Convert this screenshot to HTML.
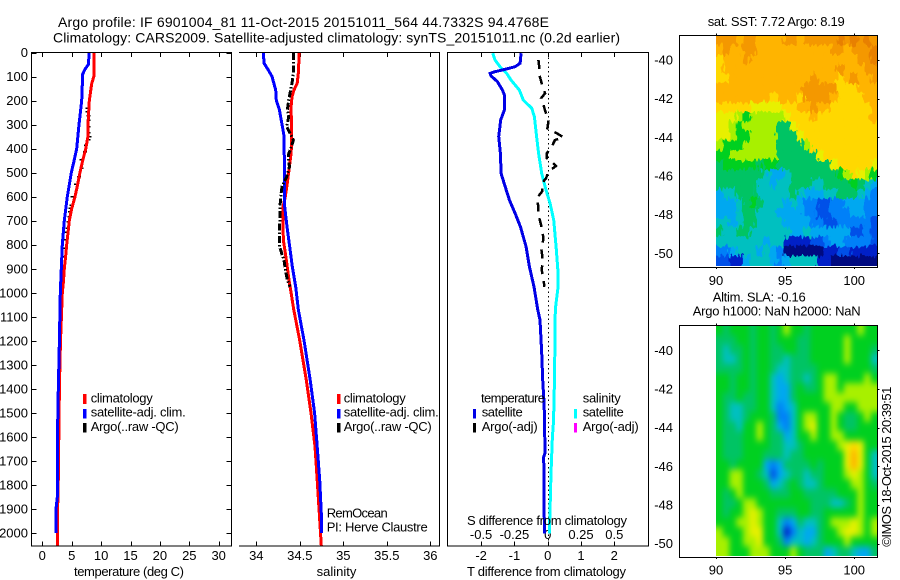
<!DOCTYPE html>
<html>
<head>
<meta charset="utf-8">
<title>Argo profile 6901004_81</title>
<style>
html,body{margin:0;padding:0;background:#fff;width:900px;height:580px;overflow:hidden}
svg{display:block;font-family:"Liberation Sans",sans-serif;font-size:13px;fill:#000}
.line{fill:none;shape-rendering:crispEdges}
.frame{fill:none;stroke:#000;stroke-width:1;shape-rendering:crispEdges}
.sm{font-size:12.5px}
</style>
</head>
<body>
<svg id="chart" width="900" height="580" viewBox="0 0 900 580">
<defs>
<clipPath id="clip-sst"><rect x="716" y="35.5" width="161.5" height="230.5"/></clipPath>
<clipPath id="clip-sla"><rect x="716" y="325.5" width="161.5" height="230.5"/></clipPath>
<filter id="jag" x="-5%" y="-5%" width="110%" height="110%" color-interpolation-filters="sRGB">
<feTurbulence type="fractalNoise" baseFrequency="0.38 0.14" numOctaves="1" seed="4" result="n"/>
<feDisplacementMap in="SourceGraphic" in2="n" scale="12" xChannelSelector="R" yChannelSelector="G"/>
</filter>
<filter id="soft" x="-5%" y="-5%" width="110%" height="110%" color-interpolation-filters="sRGB">
<feGaussianBlur stdDeviation="3 3.5"/>
</filter>
</defs>

<text x="58" y="27" font-size="14" textLength="491">Argo profile: IF 6901004_81 11-Oct-2015 20151011_564 44.7332S 94.4768E</text>
<text x="53" y="42.5" font-size="14" textLength="567">Climatology: CARS2009. Satellite-adjusted climatology: synTS_20151011.nc (0.2d earlier)</text>

<g id="plots"></g>

<path class="frame" d="M31.5 52.5H231.5V546H31.5Z"/>
<path class="frame" d="M239 52.5H439.5V546H239"/>
<path class="frame" d="M447.5 52.5H648.5V546H447.5Z"/>
<path class="frame" d="M679.5 35.5H877.5V267.5H679.5Z"/>
<path class="frame" d="M679.5 325.5H877.5V557.5H679.5Z"/>

<text x="129" y="576" text-anchor="middle" textLength="110">temperature (deg C)</text>
<text x="336.5" y="576" text-anchor="middle">salinity</text>
<text x="546.5" y="576" text-anchor="middle" textLength="159">T difference from climatology</text>
<text x="547" y="525" text-anchor="middle" textLength="160">S difference from climatology</text>

<g>
<rect x="83" y="394" width="3.5" height="10" fill="#f00"/>
<rect x="83" y="409" width="3.5" height="9.5" fill="#00f"/>
<rect x="83" y="423" width="3.5" height="9.5" fill="#000"/>
<text x="90.7" y="402.7" textLength="62">climatology</text>
<text x="90.7" y="416.7" textLength="95">satellite-adj. clim.</text>
<text x="90.7" y="431" textLength="88">Argo(..raw -QC)</text>
</g>
<g>
<rect x="337" y="394" width="3.5" height="10" fill="#f00"/>
<rect x="337" y="409" width="3.5" height="9.5" fill="#00f"/>
<rect x="337" y="423" width="3.5" height="9.5" fill="#000"/>
<text x="343.7" y="402.7" textLength="62">climatology</text>
<text x="343.7" y="416.7" textLength="95">satellite-adj. clim.</text>
<text x="343.7" y="431" textLength="88">Argo(..raw -QC)</text>
<text x="326.7" y="517.7" textLength="61">RemOcean</text>
<text x="326.7" y="531.7" textLength="101">PI: Herve Claustre</text>
</g>
<g>
<text x="481" y="402.7" textLength="64">temperature</text>
<rect x="473" y="409" width="3" height="9.5" fill="#0000e6"/>
<rect x="473" y="423" width="3" height="9.5" fill="#000"/>
<text x="481.7" y="416.7" textLength="41">satellite</text>
<text x="481.7" y="431" textLength="56">Argo(-adj)</text>
<text x="582.7" y="402.7" textLength="38">salinity</text>
<rect x="574" y="409" width="3" height="9.5" fill="#0ff"/>
<rect x="574" y="423" width="3" height="9.5" fill="#f0f"/>
<text x="582.7" y="416.7" textLength="41">satellite</text>
<text x="582.7" y="431" textLength="56">Argo(-adj)</text>
</g>

<text x="707.7" y="26" textLength="137">sat. SST: 7.72 Argo: 8.19</text>
<text x="712.7" y="301.7" textLength="93">Altim. SLA: -0.16</text>
<text x="692.7" y="315.7" textLength="168">Argo h1000: NaN h2000: NaN</text>
<text transform="translate(891 546.7) rotate(-90)" textLength="160">©IMOS 18-Oct-2015 20:39:51</text>
</svg>

<script>
const depthTicks = [0,100,200,300,400,500,600,700,800,900,1000,1100,1200,1300,1400,1500,1600,1700,1800,1900,2000];
const tempTicks = [0,5,10,15,20,25,30];
const salTicks = [34,34.5,35,35.5,36];
const tDiffTicks = [-2,-1,0,1,2];
const sDiffTicks = [-0.5,-0.25,0,0.25,0.5];
const lonTicks = [90,95,100];
const latTicks = [-40,-42,-44,-46,-48,-50];

const climTempDepth = [0,100,130,200,300,350,400,450,500,550,600,650,700,750,800,850,900,950,1000,1100,1200,1300,1400,1500,1800,1900,2053];
const climTempValue = [8.8,8.75,8.4,8.0,7.77,7.75,7.4,6.87,6.4,6.0,5.56,5.0,4.6,4.37,4.15,3.97,3.74,3.6,3.4,3.25,3.1,3.0,2.9,2.85,2.7,2.6,2.55];
const satTempDepth = [0,50,70,90,200,300,400,450,500,550,600,700,800,900,1000,1200,1400,1500,1600,1850,1900,2000];
const satTempValue = [8.0,7.83,7.26,6.87,6.7,6.24,5.85,5.4,4.93,4.6,4.25,3.74,3.4,3.23,3.06,2.9,2.72,2.65,2.55,2.55,2.33,2.33];
const argoTempDepth = [232,246,264,281,309,333,350,364,385,413,447,482,517,549,600,635,648,662,683,704,732,748,780,815,850,891,933,967];
const argoTempValue = [7.66,7.66,7.83,7.83,7.83,7.83,8.0,7.83,7.43,7.26,6.64,6.64,6.24,5.73,5.11,5.0,4.82,4.71,4.6,4.48,4.31,4.14,4.03,3.92,3.86,3.58,3.46,3.35];

const climSalDepth = [0,87,128,156,184,225,364,420,475,544,600,642,780,850,947,1016,1069,1200,1363,1500,1640,1779,1918,2053];
const climSalValue = [34.494,34.483,34.47,34.433,34.41,34.40,34.407,34.40,34.38,34.356,34.333,34.307,34.31,34.34,34.376,34.407,34.43,34.50,34.575,34.629,34.675,34.70,34.724,34.747];
const satSalDepth = [0,45,73,100,156,198,239,308,350,642,725,808,891,975,1069,1200,1363,1500,1640,1779,1918,2000];
const satSalValue = [34.08,34.09,34.138,34.18,34.223,34.23,34.265,34.30,34.32,34.326,34.353,34.384,34.414,34.453,34.483,34.55,34.62,34.67,34.70,34.729,34.747,34.747];
const argoSalDepth = [3,87,128,170,198,239,267,309,336,364,392,426,447,475,517,558,600,642,725,808,836,864,905,947,975];
const argoSalValue = [34.426,34.426,34.41,34.387,34.372,34.357,34.372,34.349,34.387,34.426,34.403,34.368,34.372,34.38,34.349,34.295,34.28,34.272,34.269,34.269,34.292,34.318,34.334,34.357,34.387];

const diffTDepth = [3,45,59,70,80,87,98,121,156,177,239,281,350,420,503,544,614,669,725,808,891,975,1069,1113,1250,1363,1432,1502,1668,1682,2001];
const diffTValue = [-0.8,-0.83,-0.98,-1.28,-1.58,-1.73,-1.70,-1.51,-1.36,-1.30,-1.30,-1.41,-1.47,-1.42,-1.40,-1.31,-1.15,-0.98,-0.82,-0.65,-0.55,-0.41,-0.30,-0.23,-0.18,-0.15,-0.12,-0.10,-0.08,-0.12,-0.10];
const diffSDepth = [3,31,59,87,114,156,198,232,267,350,420,503,572,628,697,808,919,975,1069,1200,1363,1446,1543,1599,1751,1848,2001];
const diffSValue = [-0.413,-0.396,-0.358,-0.308,-0.276,-0.213,-0.183,-0.12,-0.10,-0.083,-0.068,-0.045,-0.013,0.018,0.045,0.063,0.078,0.078,0.057,0.055,0.05,0.048,0.043,0.035,0.025,0.02,0.012];
const argoDiffDepth = [31,66,94,128,170,191,218,253,288,316,336,353,364,392,420,440,454,472,496,524,544,579,607,642,676,711,746,780,808,850,877,905,940,975];
const argoDiffValue = [-0.28,-0.25,-0.25,-0.18,-0.08,-0.20,-0.13,-0.05,0.02,-0.01,0.27,0.47,0.22,0.12,-0.03,-0.03,0.12,0.25,0.02,-0.05,-0.17,-0.17,-0.33,-0.28,-0.28,-0.21,-0.15,-0.13,-0.20,-0.16,-0.16,-0.18,-0.13,-0.10];

const gridLonStart = 90;
const gridLonStep = 0.4868;
const gridLatStart = -38.72;
const gridLatStep = -0.4965;

const sstGrid = [
[12,12,12,11,12,12,11,11,11,11,12,12,11,12,12,12,12,12,13,12,13,12,13,12],
[11,12,11,11,12,12,11,11,11,11,11,11,11,11,11,11,11,12,12,11,12,12,12,13],
[10,11,11,11,12,11,11,11,11,11,11,11,11,11,11,11,11,11,11,11,11,12,12,13],
[10,11,11,11,11,11,11,11,11,11,11,11,11,11,11,11,11,11,12,11,11,11,12,12],
[10,10,11,11,11,11,11,11,11,11,11,11,11,11,12,11,11,11,10,11,12,11,11,12],
[11,11,11,11,11,11,11,11,11,11,11,11,11,12,12,12,12,12,10,10,10,11,11,11],
[11,11,11,11,11,11,11,11,10,11,11,11,10,12,12,12,12,11,10,10,10,10,11,11],
[10,10,10,10,10,9,9,9,9,9,10,10,11,11,12,11,11,10,10,10,10,10,10,11],
[9,9,9,8,7,8,8,8,8,8,9,10,10,10,11,10,10,10,10,10,10,10,10,11],
[9,9,8,7,8,8,8,8,8,6,6,9,10,10,10,10,10,10,10,10,10,10,10,10],
[9,9,8,7,7,8,8,8,8,6,6,6,9,10,10,10,10,10,10,10,10,10,10,10],
[8,7,7,7,8,8,8,8,8,6,6,6,6,8,10,10,10,10,10,10,10,10,10,10],
[7,7,8,8,8,8,8,8,8,6,6,6,6,6,6,9,10,10,10,10,10,10,10,10],
[6,7,7,7,7,7,6,7,7,6,6,6,6,6,6,6,6,9,10,10,10,10,10,9],
[6,6,6,6,6,6,6,5,4,4,5,6,6,6,6,6,6,6,7,8,10,9,8,7],
[6,6,6,6,6,6,5,5,4,5,5,6,6,6,5,5,6,6,6,6,7,6,5,4],
[4,5,5,6,6,6,5,5,5,5,5,6,5,4,4,4,5,5,6,6,6,5,4,3],
[4,4,4,5,6,7,6,5,5,5,4,5,4,3,3,2,2,3,3,4,4,4,3,3],
[4,4,4,5,6,6,5,5,5,4,4,4,4,3,3,2,2,3,3,3,4,4,3,3],
[5,5,4,5,6,6,5,5,5,5,4,4,4,4,3,3,2,2,3,3,3,3,3,2],
[6,5,5,6,6,5,5,5,5,5,5,4,4,5,4,4,4,4,4,4,2,2,3,2],
[5,5,5,5,5,5,5,4,5,5,1,1,1,1,2,2,3,4,4,3,3,3,3,2],
[3,3,4,5,5,5,4,5,4,3,0,0,0,0,0,0,1,1,2,2,1,1,1,1],
[2,2,1,1,4,5,5,5,4,3,4,5,5,5,5,1,1,0,0,0,0,0,0,0]
];

const slaGrid = [
[7,6,7,7,7,6,7,7,6,7,8,7,7,6,7,7,7,7,7,7,7,8,7,7],
[6,6,6,7,7,6,7,7,6,7,7,7,6,6,7,7,7,7,7,8,7,7,7,7],
[6,5,6,6,7,6,7,7,6,6,7,7,6,6,7,7,7,7,7,8,7,7,7,6],
[6,5,5,6,7,6,7,7,6,6,5,6,6,6,7,7,7,7,7,8,7,7,7,5],
[6,6,6,6,7,6,7,7,6,5,5,6,6,6,6,7,7,7,7,7,7,7,7,6],
[7,7,6,7,7,6,7,7,5,4,5,6,6,5,6,7,8,8,7,7,7,7,8,7],
[7,7,6,7,7,6,7,7,5,4,4,6,7,6,6,7,8,8,7,8,8,8,8,8],
[7,6,6,7,6,6,7,7,5,4,4,6,7,7,7,7,8,8,8,8,8,8,8,8],
[7,6,5,5,6,6,7,7,5,3,4,5,7,7,7,7,7,8,8,7,7,8,8,8],
[7,6,5,5,6,7,7,7,6,3,3,5,7,8,8,7,7,8,7,6,6,7,8,7],
[7,6,6,5,7,7,8,7,6,4,3,5,7,8,9,7,7,8,7,6,6,7,7,7],
[7,6,6,6,7,7,8,7,6,6,4,5,7,7,8,7,7,8,8,7,7,7,7,7],
[7,6,6,6,7,7,7,7,6,6,5,5,6,7,7,7,7,7,8,9,10,9,7,7],
[7,6,6,6,7,7,7,6,6,6,5,6,6,7,7,7,7,7,7,9,11,9,7,5],
[7,7,6,7,7,7,7,4,3,4,6,6,6,6,7,6,7,7,7,9,11,9,7,5],
[7,7,8,8,7,7,6,5,2,4,5,6,6,5,6,6,7,7,7,8,9,8,7,5],
[7,7,8,8,7,7,7,6,4,5,6,7,6,5,5,6,7,7,7,7,8,8,7,6],
[7,6,7,8,7,7,7,7,6,6,6,7,7,6,6,6,6,6,7,7,7,8,7,7],
[7,6,6,7,8,8,7,7,7,7,7,7,7,7,6,6,6,5,5,6,7,8,7,7],
[7,6,7,7,8,9,8,7,7,6,6,6,7,7,6,6,7,7,7,7,7,8,7,7],
[7,7,7,8,8,9,8,7,7,5,3,4,6,5,5,6,7,8,8,8,9,8,7,8],
[8,7,7,7,8,9,9,7,7,5,1,3,5,4,4,6,7,7,8,9,9,8,7,8],
[8,8,7,7,8,8,9,7,7,6,3,5,5,4,5,6,7,7,7,8,7,7,7,7],
[8,8,7,7,7,8,8,8,7,7,7,8,7,6,6,6,4,5,6,6,5,4,4,6]
];

const levelColors = ['#000a80','#0020c8','#0050e8','#0080f8','#00a8f0','#00c0c0','#00c464','#00d020','#a8f000','#e8f000','#ffd800','#ffb400','#f49800','#e88000'];

const NS = 'http://www.w3.org/2000/svg';
const yDepth = d => 52.5 + 0.2403 * d;
const xTemp = v => 42.3 + 5.88 * v;
const xSal = v => 256.3 + 87 * (v - 34);
const xDiffT = v => 547.7 + 33.3 * v;
const xDiffS = v => 547.7 + 133.2 * v;
const xLon = v => 716 + 13.82 * (v - 90);
const yLat1 = v => 60 + 19.33 * (-40 - v);
const yLat2 = v => 350.3 + 19.33 * (-40 - v);

const root = document.getElementById('plots');

function make(tag, parent, attrs, txt) {
  const n = document.createElementNS(NS, tag);
  for (const k in attrs) n.setAttribute(k, attrs[k]);
  if (txt !== undefined) n.textContent = txt;
  parent.appendChild(n);
  return n;
}

function tickLine(x1, y1, x2, y2, parent) {
  const t = make('line', parent, {x1, y1, x2, y2, stroke: '#000', 'stroke-width': 1, 'shape-rendering': 'crispEdges'});
  
  
}

function label(x, y, anchor, txt, parent) {
  const t = make('text', parent, {x, y, 'text-anchor': anchor}, txt);
  
  
}

function series(xs, ys, xf, color, width, dash, name) {
  const pts = xs.map((v, i) => xf(v).toFixed(1) + ',' + yDepth(ys[i]).toFixed(1)).join(' ');
  const p = make('polyline', root, {points: pts, stroke: color, 'stroke-width': width, class: 'line'});
  if (dash) p.setAttribute('stroke-dasharray', dash);
  
  
}

function drawGrid(grid, yf, clipId, filterId) {
  const outer = make('g', root, {'clip-path': 'url(#' + clipId + ')'});
  
  
  const inner = make('g', outer, {filter: 'url(#' + filterId + ')'});
  grid.forEach((row, r) => {
    row.forEach((val, c) => {
      let x0 = xLon(gridLonStart + c * gridLonStep);
      let x1 = xLon(gridLonStart + (c + 1) * gridLonStep);
      let y0 = yf(gridLatStart + r * gridLatStep);
      let y1 = yf(gridLatStart + (r + 1) * gridLatStep);
      if (c === 0) x0 -= 12;
      if (c === row.length - 1) x1 += 12;
      if (r === 0) y0 -= 12;
      if (r === grid.length - 1) y1 += 12;
      const cell = make('rect', inner, {x: x0.toFixed(1), y: y0.toFixed(1), width: (x1 - x0 + 0.5).toFixed(1), height: (y1 - y0 + 0.5).toFixed(1), fill: levelColors[val]});
      
      
    });
  });
}

/* heatmaps */
drawGrid(sstGrid, yLat1, 'clip-sst', 'jag');
drawGrid(slaGrid, yLat2, 'clip-sla', 'soft');

/* depth ticks, temperature panel */
depthTicks.forEach(d => {
  const y = Math.round(yDepth(d)) + 0.5;
  tickLine(31.5, y, 36.5, y, root);
  tickLine(226.5, y, 231.5, y, root);
  label(28, yDepth(d) + 4.5, 'end', String(d), root);
});
tempTicks.forEach(v => {
  const x = Math.round(xTemp(v)) + 0.5;
  tickLine(x, 52.5, x, 57, root);
  tickLine(x, 541.5, x, 546, root);
  label(xTemp(v), 560, 'middle', String(v), root);
});
salTicks.forEach(v => {
  const x = Math.round(xSal(v)) + 0.5;
  tickLine(x, 52.5, x, 57, root);
  tickLine(x, 541.5, x, 546, root);
  label(xSal(v), 560, 'middle', String(v), root);
});
tDiffTicks.forEach(v => {
  const x = Math.round(xDiffT(v)) + 0.5;
  tickLine(x, 52.5, x, 57, root);
  tickLine(x, 541.5, x, 546, root);
  label(xDiffT(v), 560, 'middle', String(v), root);
});
sDiffTicks.forEach(v => {
  label(xDiffS(v), 539, 'middle', String(v), root);
});

/* map ticks */
lonTicks.forEach(v => {
  const x = Math.round(xLon(v)) + 0.5;
  tickLine(x, 33.5, x, 36, root);
  tickLine(x, 267, x, 269, root);
  tickLine(x, 323.5, x, 326, root);
  tickLine(x, 557, x, 559, root);
  label(xLon(v), 285, 'middle', String(v), root);
  label(xLon(v), 574.3, 'middle', String(v), root);
});
latTicks.forEach(v => {
  const y1 = Math.round(yLat1(v)) + 0.5;
  const y2 = Math.round(yLat2(v)) + 0.5;
  tickLine(877.5, y1, 879.5, y1, root);
  tickLine(877.5, y2, 879.5, y2, root);
  label(673, yLat1(v) + 4.5, 'end', String(v), root);
  label(673, yLat2(v) + 4.5, 'end', String(v), root);
});

/* temperature panel series */
argoTempValue.forEach((v, i) => {
  const m = make('line', root, {x1: xTemp(v) - 2, x2: xTemp(v) + 2, y1: yDepth(argoTempDepth[i]), y2: yDepth(argoTempDepth[i]), stroke: '#000', 'stroke-width': 1.5, 'shape-rendering': 'crispEdges'});
  
  
});
series(climTempValue, climTempDepth, xTemp, '#f00', 3, null, 'climatology-temperature-line');
series(satTempValue, satTempDepth, xTemp, '#00f', 3, null, 'satellite-temperature-line');

/* salinity panel series */
series(climSalValue, climSalDepth, xSal, '#f00', 3, null, 'climatology-salinity-line');
series(satSalValue, satSalDepth, xSal, '#00f', 3, null, 'satellite-salinity-line');
series(argoSalValue, argoSalDepth, xSal, '#000', 3, '7 2 1.5 2', 'argo-salinity-line');

/* difference panel */
const zero = make('line', root, {x1: 548.5, x2: 548.5, y1: 53, y2: 546, stroke: '#000', 'stroke-width': 1, 'stroke-dasharray': '1.5 3', 'shape-rendering': 'crispEdges'});


series(diffSValue, diffSDepth, xDiffS, '#0ff', 3, null, 'salinity-difference-line');
series(diffTValue, diffTDepth, xDiffT, '#0000e6', 3, null, 'temperature-difference-line');
series(argoDiffValue, argoDiffDepth, xDiffT, '#000', 2.5, '9 7', 'argo-temperature-difference-line');
</script>
</body>
</html>
